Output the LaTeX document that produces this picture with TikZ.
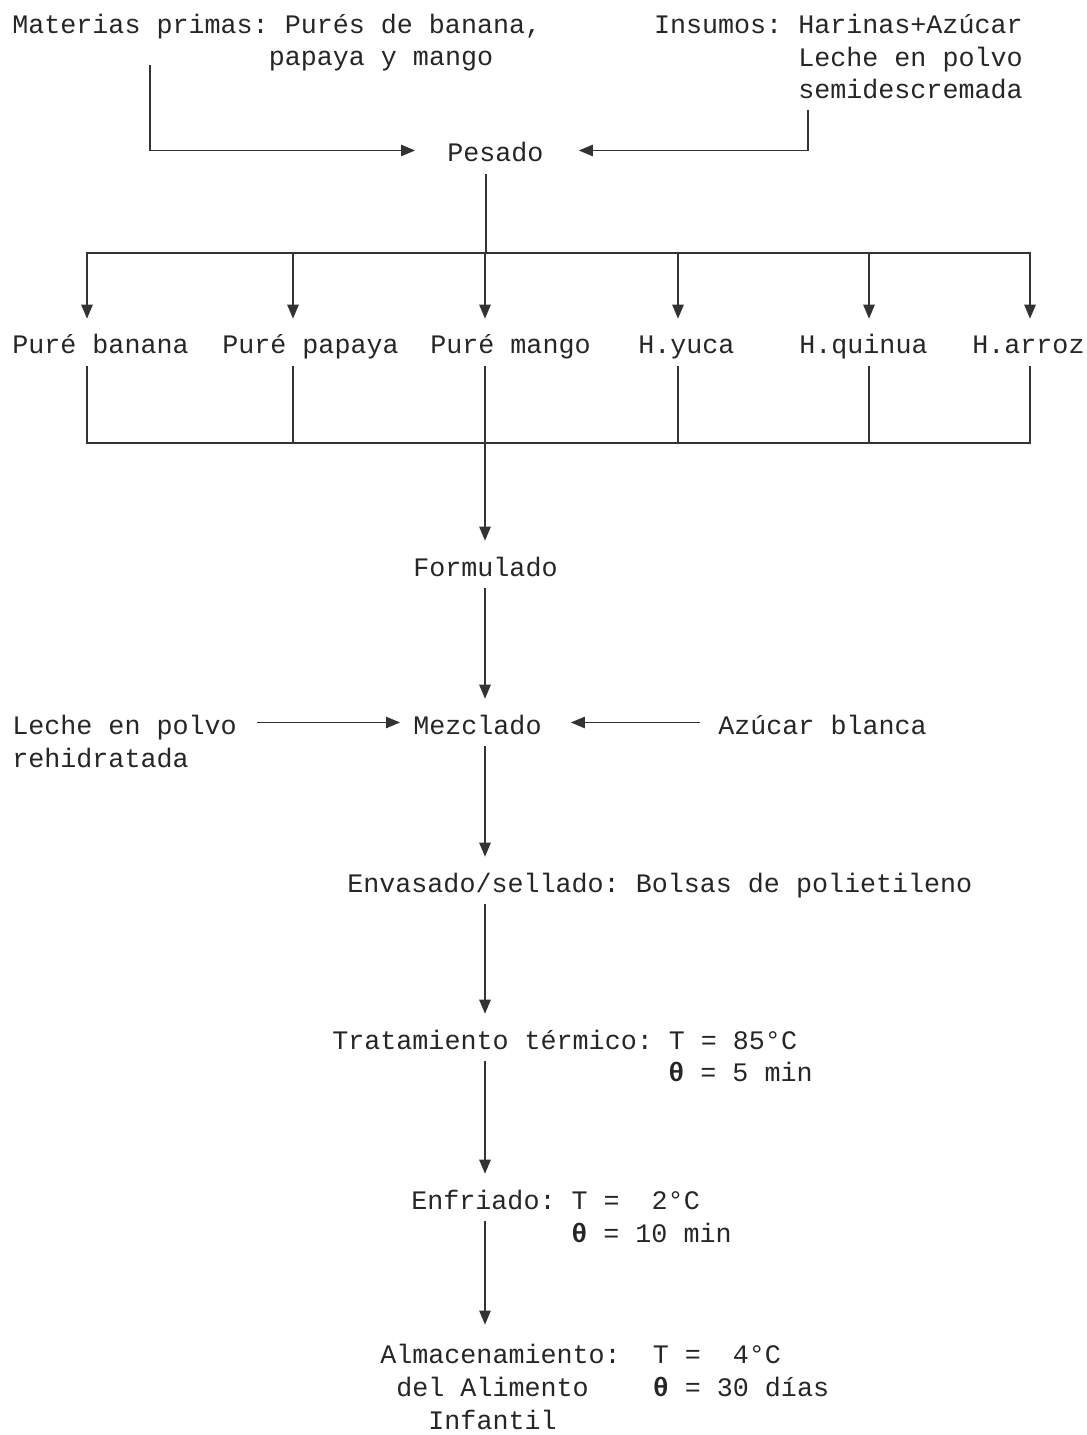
\documentclass[tikz,border=0pt]{standalone}
\usepackage{fontspec}
\setmonofont{Liberation Mono}
\usetikzlibrary{arrows.meta}

\newcommand{\cols}[1]{\hspace*{#1\fontcharwd\font`a}}
\newcommand{\thetab}{\textbf{θ}}

\begin{document}
\begin{tikzpicture}[x=0.02cm,y=-0.02cm]
\tikzset{
  txt/.style={font=\ttfamily\fontsize{15.2}{18.7}\selectfont,text=black!85,inner sep=0pt,anchor=base west},
  stepnode/.style={txt,text height=15.9pt,text depth=2.8pt,inner ysep=4pt},
  blocknode/.style={txt,align=left},
  flow/.style={draw=black!80,line width=0.6pt,-{Triangle[length=2.8mm,width=2.3mm]}},
  link/.style={draw=black!80,line width=0.6pt}
}
\useasboundingbox (0,0) rectangle (1087,1435);

% inputs (multi-line nodes sit on their last line)
\node[blocknode] (n_mp) at (12,66) {Materias primas: Purés de banana,\\\cols{16}papaya y mango};
\node[blocknode,align=right,anchor=base east] (n_ins) at (1023,99) {Insumos: Harinas+Azúcar\\Leche en polvo\\semidescremada};
\node[stepnode] (n_pesado) at (447,162) {Pesado};

% purees and flours
\node[stepnode] (n_banana) at (12,354) {Puré banana};
\node[stepnode] (n_papaya) at (222,354) {Puré papaya};
\node[stepnode] (n_mango) at (430,354) {Puré mango};
\node[stepnode] (n_yuca) at (638,354) {H.yuca};
\node[stepnode] (n_quinua) at (799,354) {H.quinua};
\node[stepnode] (n_arroz) at (972,354) {H.arroz};

% process
\node[stepnode] (n_formulado) at (413,576) {Formulado};
\node[stepnode] (n_mezclado) at (413,734) {Mezclado};
\node[blocknode] (n_leche) at (12,767) {Leche en polvo\\rehidratada};
\node[stepnode] (n_azucar) at (718,734) {Azúcar blanca};
\node[stepnode] (n_envasado) at (347,892) {Envasado/sellado: Bolsas de polietileno};
\node[stepnode] (n_tratamiento) at (332,1049) {Tratamiento térmico: T = 85°C};
\node[txt] (n_trat_theta) at (668,1081) {\thetab{} = 5 min};
\node[stepnode] (n_enfriado) at (411,1209) {Enfriado: T =~~2°C};
\node[txt] (n_enf_theta) at (571,1242) {\thetab{} = 10 min};
\node[blocknode] (n_alm) at (380,1429) {Almacenamiento:~~T =~~4°C\\\cols{1}del Alimento\cols{4}\thetab{} = 30 días\\\cols{3}Infantil};

\coordinate (c_mp) at (150,65);
\coordinate (c_ins) at (808,110);
\coordinate (c_split) at (486,253);
\coordinate (c_join) at (485,443);

\draw[flow,shorten >=0.64cm] (c_mp) |- (n_pesado.west);
\draw[flow,shorten >=0.7cm] (c_ins) |- (n_pesado.east);
\draw[link] (n_pesado.south -| c_split) -- (c_split);
\foreach \n/\x in {banana/87,papaya/293,mango/485,yuca/678,quinua/869,arroz/1030}{
  \coordinate (s_\n) at (\x,0);
  \draw[flow] (c_split) -| (n_\n.north -| s_\n);
  \draw[link] (n_\n.south -| s_\n) |- (c_join);
}
\draw[flow] (c_join) -- (n_formulado.north -| c_join);
\draw[flow] (n_formulado.south -| c_join) -- (n_mezclado.north -| c_join);
\draw[flow,shorten <=0.4cm,shorten >=0.26cm] (n_leche.east |- n_mezclado.west) -- (n_mezclado.west);
\draw[flow,shorten <=0.36cm,shorten >=0.58cm] (n_azucar.west) -- (n_mezclado.east);
\draw[flow] (n_mezclado.south -| c_join) -- (n_envasado.north -| c_join);
\draw[flow] (n_envasado.south -| c_join) -- (n_tratamiento.north -| c_join);
\draw[flow] (n_tratamiento.south -| c_join) -- (n_enfriado.north -| c_join);
\draw[flow,shorten >=0.38cm] (n_enfriado.south -| c_join) -- (n_alm.north -| c_join);
\end{tikzpicture}
\end{document}
